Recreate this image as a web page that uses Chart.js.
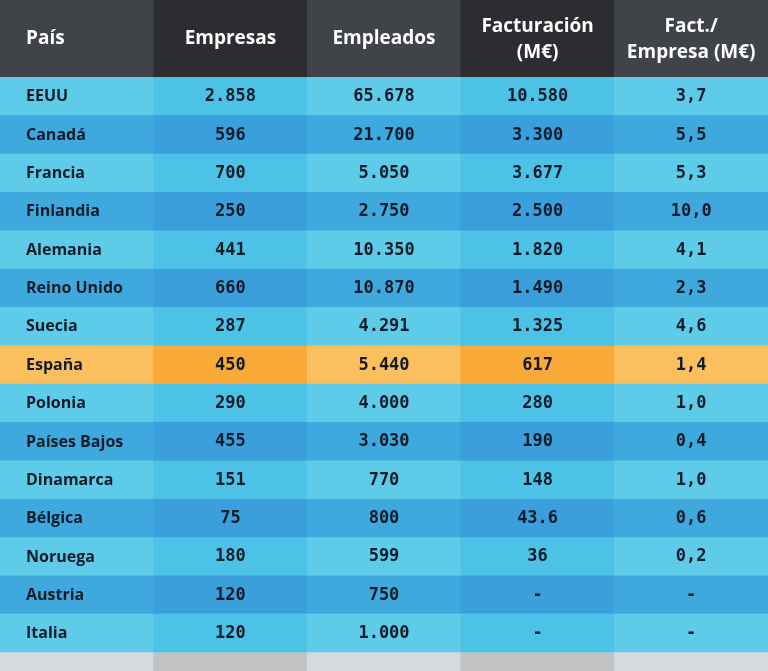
<!DOCTYPE html>
<html><head><meta charset="utf-8">
<script src="https://cdn.jsdelivr.net/npm/chart.js@4"></script>
<style>html,body{margin:0;padding:0;background:#fff}canvas{display:block}</style>
</head><body><canvas id="c" width="768" height="671"></canvas>
<script>
const headers = [["País"],["Empresas"],["Empleados"],["Facturación","(M€)"],["Fact./","Empresa (M€)"]];
const countries = ["EEUU","Canadá","Francia","Finlandia","Alemania","Reino Unido","Suecia","España","Polonia","Países Bajos","Dinamarca","Bélgica","Noruega","Austria","Italia"];
const empresas = ["2.858","596","700","250","441","660","287","450","290","455","151","75","180","120","120"];
const empleados = ["65.678","21.700","5.050","2.750","10.350","10.870","4.291","5.440","4.000","3.030","770","800","599","750","1.000"];
const facturacion = ["10.580","3.300","3.677","2.500","1.820","1.490","1.325","617","280","190","148","43.6","36","-","-"];
const factEmpresa = ["3,7","5,5","5,3","10,0","4,1","2,3","4,6","1,4","1,0","0,4","1,0","0,6","0,2","-","-"];
const highlight = "España";

const cols = [countries, empresas, empleados, facturacion, factEmpresa];
const colLabels = ["c0","c1","c2","c3","c4"];
const HEADER_H = 2, ROW_H = 1, FOOT_H = 0.5;

function fill(kind, col, row){
  const alt = col % 2 === 1;
  if(kind==='h') return alt ? '#2b2d31' : '#404347';
  if(kind==='f') return alt ? '#c0c2c4' : '#d7dadc';
  if(countries[row]===highlight) return alt ? '#f8a937' : '#fbbf5e';
  if(row % 2 === 0) return alt ? '#4cc3e6' : '#5ecbe9';
  return alt ? '#3a9fda' : '#3fa9de';
}

const datasets = [];
datasets.push({kind:'h', data: colLabels.map(()=>[0,HEADER_H]), backgroundColor: colLabels.map((_,c)=>fill('h',c))});
countries.forEach((n,r)=>{
  const s = HEADER_H + r*ROW_H;
  datasets.push({kind:'r', row:r, data: colLabels.map(()=>[s,s+ROW_H]), backgroundColor: colLabels.map((_,c)=>fill('r',c,r))});
});
const fs = HEADER_H + countries.length*ROW_H;
datasets.push({kind:'f', data: colLabels.map(()=>[fs,fs+FOOT_H]), backgroundColor: colLabels.map((_,c)=>fill('f',c))});

const textPlugin = {
  id:'txt',
  afterDatasetsDraw(chart){
    const ctx = chart.ctx, x = chart.scales.x, y = chart.scales.y;
    const colW = x.getPixelForValue(1) - x.getPixelForValue(0);
    ctx.save();
    ctx.textBaseline = 'middle';
    // headers
    ctx.fillStyle = '#ffffff';
    ctx.font = 'bold 19px "Open Sans", sans-serif';
    headers.forEach((h,c)=>{
      const cy = y.getPixelForValue(HEADER_H/2);
      const cx = x.getPixelForValue(c);
      const left = cx - colW/2;
      ctx.textAlign = c===0 ? 'left' : 'center';
      const tx = c===0 ? left+26 : cx;
      if(h.length===1) ctx.fillText(h[0], tx, cy);
      else { ctx.fillText(h[0], tx, cy-12); ctx.fillText(h[1], tx, cy+14); }
    });
    ctx.fillStyle = '#0d1b2a';
    countries.forEach((n,r)=>{
      const cy = y.getPixelForValue(HEADER_H + r*ROW_H + ROW_H/2);
      cols.forEach((arr,c)=>{
        const cx = x.getPixelForValue(c);
        if(c===0){
          ctx.textAlign='left';
          ctx.font = 'bold 16px "Open Sans", sans-serif';
          ctx.fillText(arr[r], cx - colW/2 + 26, cy+1);
        } else {
          ctx.textAlign='center';
          ctx.font = 'bold 17px "DejaVu Sans Mono", monospace';
          ctx.fillText(arr[r], cx, cy+1);
        }
      });
    });
    ctx.restore();
  }
};

new Chart(document.getElementById('c'), {
  type:'bar',
  data:{labels: colLabels, datasets},
  options:{
    responsive:false, animation:false,
    layout:{padding:0},
    datasets:{bar:{categoryPercentage:1, barPercentage:1, grouped:false, borderWidth:0}},
    plugins:{legend:{display:false}, tooltip:{enabled:false}},
    scales:{
      x:{display:false, offset:true, grid:{display:false}},
      y:{display:false, reverse:true, min:0, max:fs+FOOT_H, grid:{display:false}}
    }
  },
  plugins:[textPlugin]
});
</script></body></html>
